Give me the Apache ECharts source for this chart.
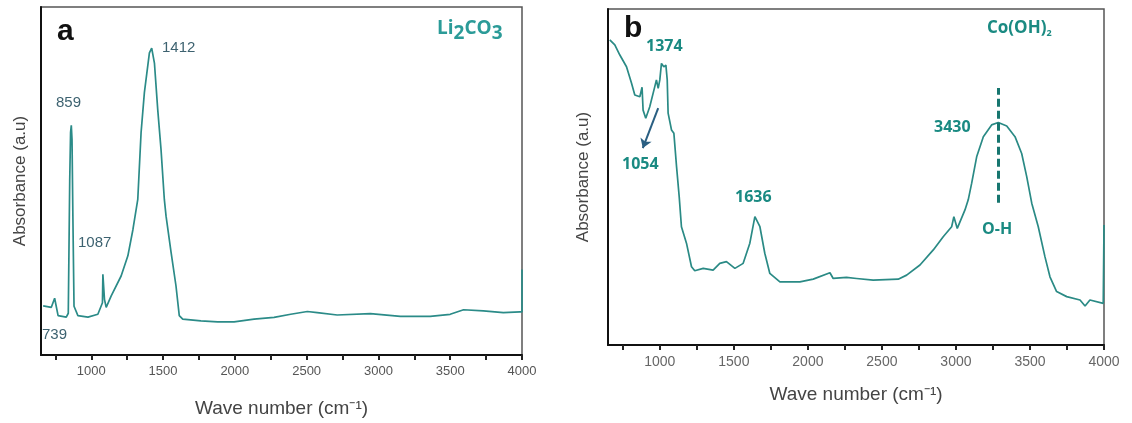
<!DOCTYPE html>
<html>
<head>
<meta charset="utf-8">
<script src="https://cdn.jsdelivr.net/npm/echarts@6/dist/echarts.min.js"></script>
<style>
  html, body { margin: 0; padding: 0; background: #fff; }
  #chart { width: 1132px; height: 423px; }
</style>
</head>
<body>
<div id="chart"></div>
<script>
// panel a : Li2CO3 spectrum (wave number, absorbance in arbitrary units 0-100)
var waveA = [665, 722, 745, 769, 826, 840, 850, 856, 861, 866, 872, 880, 907, 977, 1046, 1078, 1081, 1087, 1092, 1104,
  1139, 1208, 1255, 1290, 1324, 1347, 1370, 1405, 1421, 1440, 1463, 1486, 1509, 1521, 1556, 1590, 1613, 1637,
  1764, 1880, 1995, 2134, 2273, 2389, 2505, 2574, 2713, 2944, 3153, 3361, 3500, 3593, 3731, 3870, 3986, 4000, 4000];
var absA = [14.1, 13.7, 16.3, 11.3, 10.9, 12, 50, 64, 66, 62, 40, 14, 11.3, 10.9, 11.7, 15, 23.2, 23.5, 16, 13.7,
  17, 22.7, 28.5, 36, 44.7, 63.9, 75.4, 86.8, 88.2, 83.9, 70.5, 59, 44.7, 39.9, 29.5, 19.9, 11.3, 10.3,
  9.8, 9.5, 9.5, 10.3, 10.8, 11.7, 12.5, 12.2, 11.5, 11.9, 11.1, 11.1, 11.7, 13, 12.7, 12.2, 12.4, 12.4, 24.6];

// panel b : Co(OH)2 spectrum
var waveB = [662, 696, 730, 775, 809, 831, 865, 880, 887, 905, 932, 966, 977, 989, 1000, 1011, 1027, 1041, 1050, 1056,
  1079, 1095, 1113, 1131, 1146, 1180, 1214, 1236, 1293, 1360, 1405, 1450, 1507, 1563, 1608, 1642, 1653, 1676,
  1709, 1743, 1811, 1946, 2036, 2149, 2171, 2261, 2329, 2441, 2610, 2667, 2757, 2847, 2914, 2971, 2986, 3009,
  3061, 3083, 3106, 3140, 3185, 3241, 3286, 3343, 3399, 3444, 3478, 3512, 3556, 3601, 3635, 3680, 3748, 3838,
  3872, 3905, 3995, 4000];
var absB = [90.8, 89.3, 86.3, 82.8, 77.9, 74.4, 73.9, 76.7, 69.9, 67.5, 70.9, 76.9, 78.9, 76.4, 78.9, 83.8, 82.8, 83.3, 78.9, 69,
  64, 63, 53.1, 44.1, 35.2, 30.3, 23.3, 22.1, 22.8, 22.3, 24.3, 24.8, 22.8, 24.3, 30.3, 38.2, 38.7, 35.2,
  27.3, 21.3, 18.8, 18.8, 19.6, 21.5, 19.8, 20.1, 19.8, 19.3, 19.6, 20.8, 23.8, 28.3, 32.2, 35.2, 38.2, 34.7,
  40.2, 43.2, 48.1, 56, 62, 65.5, 66.2, 65.2, 62, 57, 50.1, 42.2, 35.2, 26.3, 20.3, 15.9, 14.4, 13.4,
  11.6, 13.4, 12.4, 35.7];

// O-H marker (dashed) and 1054 arrow in panel b
var ohWave = 3286;
var ohRange = [42.3, 76.5];
var arrowFrom = [989, 70.5];
var arrowTo = [885, 58.6];

var tickLabels = [1000, 1500, 2000, 2500, 3000, 3500, 4000];
var tickMarks = [750, 1000, 1250, 1500, 1750, 2000, 2250, 2500, 2750, 3000, 3250, 3500, 3750, 4000];

function zip(xs, ys) {
  return xs.map(function (x, i) { return [x, ys[i]]; });
}

function xAxisFor(idx, labelColor, labelSize, nameGap) {
  return {
    gridIndex: idx, type: 'value', min: 650, max: 4000,
    axisLine: { show: true, onZero: false, lineStyle: { color: '#111', width: 2 } },
    axisTick: { show: true, inside: false, length: 5, customValues: tickMarks, lineStyle: { color: '#222', width: 2 } },
    axisLabel: {
      customValues: tickLabels, color: labelColor, fontSize: labelSize, fontFamily: 'Liberation Sans', margin: 10,
      formatter: function (v) { return String(v); }
    },
    splitLine: { show: false },
    name: 'Wave number (cm\u207B\u00B9)', nameLocation: 'middle', nameGap: nameGap,
    nameTextStyle: { fontSize: 19, color: '#444', fontFamily: 'Liberation Sans' }
  };
}

function yAxisFor(idx, nameGap) {
  return {
    gridIndex: idx, type: 'value', min: 0, max: 100,
    axisLine: { show: true, lineStyle: { color: '#111', width: 2 } },
    axisTick: { show: false }, axisLabel: { show: false }, splitLine: { show: false },
    name: 'Absorbance (a.u)', nameLocation: 'middle', nameRotate: 90, nameGap: nameGap,
    nameTextStyle: { fontSize: 17, color: '#444', fontFamily: 'Liberation Sans' }
  };
}

var numA = { fontSize: 15, fill: '#3d6270', fontFamily: 'Liberation Sans' };
var numB = { fontSize: 16, fill: '#1a8a82', fontWeight: 'bold', fontFamily: 'Open Sans' };

function txt(x, y, text, st) {
  return { type: 'text', left: x, top: y, style: Object.assign({ text: text }, st) };
}

var chart = echarts.init(document.getElementById('chart'));
chart.setOption({
  animation: false,
  backgroundColor: '#fff',
  grid: [
    { left: 41, top: 7, right: 610, bottom: 67, show: true, borderColor: '#555', borderWidth: 1.5 },
    { left: 608, top: 9, right: 28, bottom: 78, show: true, borderColor: '#555', borderWidth: 1.5 }
  ],
  xAxis: [xAxisFor(0, '#555', 13, 44), xAxisFor(1, '#666', 14, 40)],
  yAxis: [yAxisFor(0, 12), yAxisFor(1, 16)],
  series: [
    {
      type: 'line', xAxisIndex: 0, yAxisIndex: 0, data: zip(waveA, absA),
      showSymbol: false, lineStyle: { color: '#2b8b88', width: 1.7 }
    },
    {
      type: 'line', xAxisIndex: 1, yAxisIndex: 1, data: zip(waveB, absB),
      showSymbol: false, lineStyle: { color: '#2a8a85', width: 1.7 },
      markLine: {
        silent: true, animation: false, label: { show: false },
        data: [
          [{ coord: [ohWave, ohRange[0]], symbol: 'none', lineStyle: { type: [8, 4], color: '#17766f', width: 3 } },
           { coord: [ohWave, ohRange[1]], symbol: 'none' }],
          [{ coord: arrowFrom, symbol: 'none', lineStyle: { type: 'solid', color: '#2a5f82', width: 2 } },
           { coord: arrowTo, symbol: 'arrow', symbolSize: 9 }]
        ]
      }
    }
  ],
  graphic: [
    txt(57, 17, 'a', { fontSize: 30, fontWeight: 'bold', fill: '#111', fontFamily: 'Liberation Sans' }),
    {
      type: 'text', left: 437, top: 19,
      style: {
        text: '{m|Li}{s|2}{m|CO}{s|3}',
        rich: {
          m: { fontSize: 19, fontWeight: 'bold', fill: '#2b9b98', fontFamily: 'Open Sans' },
          s: { fontSize: 19, fontWeight: 'bold', fill: '#2b9b98', fontFamily: 'Open Sans', padding: [10, 0, 0, 0] }
        }
      }
    },
    txt(162, 40, '1412', numA),
    txt(56, 95, '859', numA),
    txt(78, 235, '1087', numA),
    txt(42, 327, '739', numA),

    txt(624, 14, 'b', { fontSize: 30, fontWeight: 'bold', fill: '#111', fontFamily: 'Liberation Sans' }),
    {
      type: 'text', left: 987, top: 20,
      style: {
        text: '{m|Co(OH)}{s|2}',
        rich: {
          m: { fontSize: 17, fontWeight: 'bold', fill: '#1a8a82', fontFamily: 'Open Sans' },
          s: { fontSize: 9, fontWeight: 'bold', fill: '#1a8a82', fontFamily: 'Open Sans', padding: [10, 0, 0, 0] }
        }
      }
    },
    txt(646, 38, '1374', numB),
    txt(622, 156, '1054', numB),
    txt(735, 189, '1636', numB),
    txt(934, 119, '3430', numB),
    txt(982, 221, 'O-H', numB)
  ]
});
</script>
</body>
</html>
